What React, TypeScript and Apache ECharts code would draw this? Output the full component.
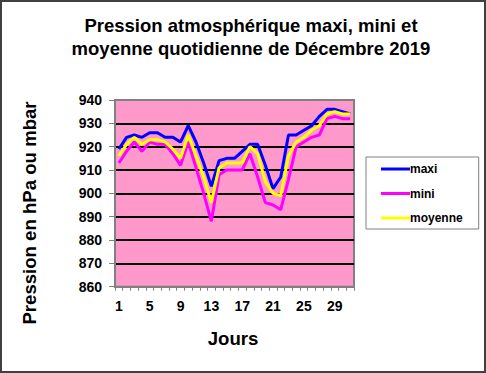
import React, { useEffect, useRef } from "react";
import * as echarts from "echarts";

const days = Array.from({ length: 31 }, (_, i) => String(i + 1));
const maxi = [919, 924, 925, 924, 926, 926, 924, 924, 922, 929, 922, 913, 903, 914, 915, 915, 918, 921, 921, 912, 902, 907, 925, 925, 927, 929, 933, 936, 936, 935, 934];
const mini = [913, 918, 922, 918, 922, 921, 921, 917, 912, 922, 911, 900, 888, 908, 910, 910, 910, 917, 907, 896, 895, 893, 906, 920, 922, 924, 925, 932, 933, 932, 932];
const moyenne = [916, 921, 924, 921, 923, 923, 922, 919, 915, 925, 916, 907, 896, 911, 913, 913, 913, 920, 917, 905, 900, 899, 916, 922, 924, 927, 929, 934, 935, 934, 934];
const seriesNames = ["maxi", "mini", "moyenne"];
const titleText = "Pression atmosphérique maxi, mini et\nmoyenne quotidienne de Décembre 2019";
const yName = "Pression en hPa ou mbar";
const xName = "Jours";

const FONT = 'Arial, "Liberation Sans", sans-serif';

export default function App() {
  const ref = useRef<HTMLDivElement>(null);
  useEffect(() => {
    if (!ref.current) return;
    const chart = echarts.init(ref.current, null, { renderer: "svg" });
    const mk = (name: string, data: number[], color: string) => ({
      name,
      type: "line",
      data,
      symbol: "none",
      lineStyle: { color, width: 3 },
      itemStyle: { color },
    });
    chart.setOption({
      animation: false,
      backgroundColor: "#ffffff",
      textStyle: { fontFamily: FONT },
      graphic: [
        {
          type: "rect",
          shape: { x: 1, y: 1, width: 484, height: 371 },
          style: { fill: "none", stroke: "#404040", lineWidth: 2 },
          z: 0,
        },
        {
          type: "text",
          x: 251,
          y: 37,
          style: {
            text: titleText,
            textAlign: "center",
            textVerticalAlign: "middle",
            font: `bold 18.5px ${FONT}`,
            lineHeight: 23,
            fill: "#000",
          },
        },
        {
          type: "text",
          x: 29,
          y: 213,
          rotation: Math.PI / 2,
          style: {
            text: yName,
            textAlign: "center",
            textVerticalAlign: "middle",
            font: `bold 18.6px ${FONT}`,
            fill: "#000",
          },
        },
        {
          type: "text",
          x: 233,
          y: 338,
          style: {
            text: xName,
            textAlign: "center",
            textVerticalAlign: "middle",
            font: `bold 18.6px ${FONT}`,
            fill: "#000",
          },
        },
      ],
      legend: {
        data: seriesNames,
        orient: "vertical",
        left: 366,
        top: 157,
        backgroundColor: "#ffffff",
        borderColor: "#808080",
        borderWidth: 1,
        borderRadius: 0,
        padding: [6, 16, 5, 15],
        itemGap: 12.5,
        itemWidth: 29,
        itemHeight: 3,
        icon: "rect",
        textStyle: { fontFamily: FONT, fontWeight: "bold", fontSize: 12, color: "#000", padding: [0, 0, 0, -5] },
      },
      grid: {
        left: 115,
        top: 100,
        width: 239,
        height: 186.7,
        show: true,
        backgroundColor: "#FF99CC",
        borderColor: "#808080",
        borderWidth: 2,
      },
      xAxis: {
        type: "category",
        data: days,
        boundaryGap: true,
        axisLine: { lineStyle: { color: "#808080", width: 2 } },
        axisTick: { show: true, interval: 0, length: 4, lineStyle: { color: "#808080" } },
        axisLabel: {
          interval: 3,
          margin: 12,
          fontFamily: FONT,
          fontWeight: "bold",
          fontSize: 14,
          color: "#000",
        },
        splitLine: { show: false },
      },
      yAxis: {
        type: "value",
        min: 860,
        max: 940,
        interval: 10,
        axisLine: { show: true, lineStyle: { color: "#808080", width: 2 } },
        axisTick: { show: true, length: 6, lineStyle: { color: "#808080" } },
        axisLabel: {
          margin: 13,
          fontFamily: FONT,
          fontWeight: "bold",
          fontSize: 14,
          color: "#000",
        },
        splitLine: {
          show: true,
          showMinLine: false,
          showMaxLine: false,
          lineStyle: { color: "#000", width: 2 },
        },
      },
      series: [mk("maxi", maxi, "#0000FF"), mk("mini", mini, "#FF00FF"), mk("moyenne", moyenne, "#FFFF00")],
    });
    return () => chart.dispose();
  }, []);
  return <div ref={ref} style={{ position: "absolute", left: 0, top: 0, width: 486, height: 373 }} />;
}
